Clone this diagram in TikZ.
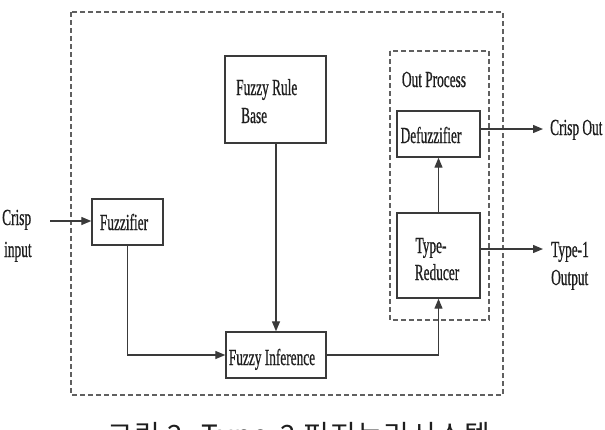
\documentclass[tikz,border=0pt]{standalone}
\usepackage{fontspec}
\usetikzlibrary{arrows.meta,calc}
\newfontfamily\condserif[FakeStretch=0.58,FakeBold=0.6]{Liberation Serif}
\newfontfamily\krfont[LetterSpace=4]{Noto Sans CJK KR}
\definecolor{linegray}{HTML}{3A3A3A}
\definecolor{dashgray}{HTML}{606060}
\definecolor{txt}{HTML}{1E1E1E}
\tikzset{
  blockbox/.style={draw=linegray, line width=1.4pt, fill=white, inner sep=0pt},
  plaintext/.style={text=txt, font=\condserif\fontsize{23}{29}\selectfont, inner sep=0pt},
  dashbox/.style={draw=dashgray, line width=1.3pt, dash pattern=on 5pt off 3pt},
  flow/.style={draw=linegray, line width=1.3pt, -{Triangle[length=10pt,width=8pt]}}
}
\begin{document}
\begin{tikzpicture}[x=1pt,y=-1pt]
\useasboundingbox (0,0) rectangle (605,429);
\clip (0,0) rectangle (605,429);
\fill[white] (0,0) rectangle (605,429);

% dashed frames
\draw[dashbox] (71,12) rectangle (503,395);
\draw[dashbox] (390,51) rectangle (489,320);

% blocks
\node[blockbox, minimum width=101pt, minimum height=87pt] (rb) at (275.5,99.5) {};
\node[blockbox, minimum width=71pt, minimum height=46pt] (fz) at (127.5,222) {};
\node[blockbox, minimum width=100pt, minimum height=46pt] (fi) at (276,355) {};
\node[blockbox, minimum width=83pt, minimum height=46pt] (df) at (438.5,134) {};
\node[blockbox, minimum width=83pt, minimum height=85pt] (tr) at (438.5,255.5) {};

% block texts
\node[plaintext, anchor=base west] (rbt1) at (236,95) {Fuzzy Rule};
\node[plaintext, anchor=base west] (rbt2) at (241,123) {Base};
\node[plaintext, anchor=base] (fzt) at (124,230) {Fuzzifier};
\node[plaintext, anchor=base] (fit) at (272,365) {Fuzzy Inference};
\node[plaintext, anchor=base] (dft) at (431,143) {Defuzzifier};
\node[plaintext, anchor=base] (trt1) at (431,253) {Type-};
\node[plaintext, anchor=base] (trt2) at (437,280) {Reducer};
\node[plaintext, anchor=base] (op) at (434,87) {Out Process};

% inputs / outputs
\node[plaintext, anchor=base west] (ci1) at (2,225) {Crisp};
\node[plaintext, anchor=base west] (ci2) at (4,257) {input};
\coordinate (cin) at (50,221);
\coordinate (co) at (543,129);
\coordinate (t1) at (543,249);
\node[plaintext, anchor=base west] (col) at (550,135) {Crisp Out};
\node[plaintext, anchor=base west] (t1a) at (551,257) {Type-1};
\node[plaintext, anchor=base west] (t1b) at (551,285) {Output};

% connectors
\draw[flow] (cin) -- (cin -| fz.west);
\draw[flow] (fz.south) |- (fi.west);
\draw[flow] (rb.south -| fi.north) -- (fi.north);
\draw[flow] (fi.east) -| (tr.south);
\draw[flow] (tr.north) -- (df.south);
\draw[flow] (df.east |- co) -- (co);
\draw[flow] (tr.east |- t1) -- (t1);

% caption (cut off at the bottom, as in the reference)
\node[anchor=base west, inner sep=0pt, text=txt, font=\krfont\fontsize{28}{30}\selectfont] (cap) at (107,445) {그림 2. Type-2 퍼지논리시스템};
\end{tikzpicture}
\end{document}
